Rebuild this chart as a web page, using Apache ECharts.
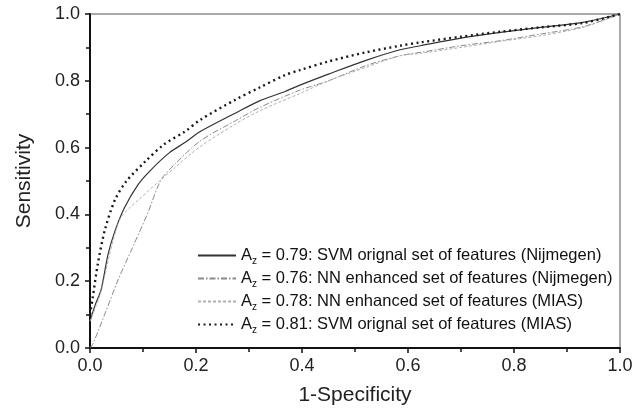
<!DOCTYPE html>
<html><head><meta charset="utf-8">
<script src="https://cdn.jsdelivr.net/npm/echarts@6/dist/echarts.min.js"></script>
<style>html,body{margin:0;padding:0;background:#fff}#c{width:643px;height:412px}</style>
</head><body><div id="c"></div>
<script>
const xTicks = [0, 0.2, 0.4, 0.6, 0.8, 1.0];
const yTicks = [0, 0.2, 0.4, 0.6, 0.8, 1.0];
const seriesNames = ['SVM Nijmegen', 'NN Nijmegen', 'NN MIAS', 'SVM MIAS'];
const aucValues = ['0.79', '0.76', '0.78', '0.81'];
const legendDesc = [
  'SVM orignal set of features (Nijmegen)',
  'NN enhanced set of features (Nijmegen)',
  'NN enhanced set of features (MIAS)',
  'SVM orignal set of features (MIAS)'
];
const svmNijmegen = [[0,0.08],[0.01,0.13],[0.021,0.175],[0.034,0.28],[0.047,0.35],[0.065,0.42],[0.091,0.49],[0.116,0.535],[0.15,0.585],[0.179,0.615],[0.208,0.648],[0.274,0.703],[0.32,0.74],[0.368,0.768],[0.396,0.787],[0.45,0.82],[0.522,0.862],[0.585,0.893],[0.623,0.905],[0.7,0.928],[0.774,0.945],[0.85,0.96],[0.93,0.975],[1,1]];
const nnNijmegen = [[0,0],[0.006,0.014],[0.03,0.11],[0.053,0.204],[0.08,0.3],[0.109,0.404],[0.134,0.503],[0.16,0.55],[0.208,0.62],[0.274,0.68],[0.32,0.72],[0.396,0.772],[0.45,0.8],[0.52,0.845],[0.585,0.875],[0.623,0.885],[0.7,0.905],[0.774,0.92],[0.85,0.94],[0.93,0.962],[1,1]];
const nnMIAS = [[0,0.08],[0.01,0.12],[0.021,0.17],[0.034,0.26],[0.045,0.33],[0.058,0.39],[0.075,0.42],[0.091,0.443],[0.131,0.5],[0.16,0.54],[0.208,0.603],[0.274,0.67],[0.32,0.71],[0.396,0.762],[0.45,0.8],[0.52,0.84],[0.585,0.875],[0.623,0.882],[0.7,0.9],[0.774,0.918],[0.85,0.935],[0.93,0.96],[1,1]];
const svmMIAS = [[0,0.1],[0.005,0.15],[0.015,0.254],[0.028,0.353],[0.047,0.443],[0.068,0.498],[0.104,0.558],[0.14,0.61],[0.179,0.648],[0.208,0.683],[0.274,0.743],[0.32,0.78],[0.368,0.817],[0.396,0.832],[0.45,0.858],[0.52,0.885],[0.585,0.905],[0.623,0.915],[0.7,0.932],[0.774,0.947],[0.85,0.96],[0.93,0.973],[1,1]];

const FONT = '"Liberation Sans", Arial, sans-serif';
const chart = echarts.init(document.getElementById('c'), null, {renderer: 'canvas'});
const styles = [
  {color: '#333', width: 1.2, type: 'solid'},
  {color: '#8a8a8a', width: 1, type: [6, 2, 1.5, 2]},
  {color: '#b0b0b0', width: 1, type: [3, 2]},
  {color: '#1a1a1a', width: 2.4, type: [2, 3.5]}
];
const datas = [svmNijmegen, nnNijmegen, nnMIAS, svmMIAS];
const axisCommon = {
  min: 0, max: 1, interval: 0.2,
  axisLine: {show: true, onZero: false, lineStyle: {color: '#111', width: 2}},
  axisTick: {show: true, inside: false, length: 5, lineStyle: {color: '#111', width: 1.5}},
  minorTick: {show: true, splitNumber: 2, length: 4, lineStyle: {color: '#111', width: 1.5}},
  splitLine: {show: false},
  axisLabel: {fontSize: 18, color: '#222', fontFamily: FONT, formatter: v => v.toFixed(1)},
  nameLocation: 'middle',
  nameTextStyle: {fontSize: 21, color: '#222', fontFamily: FONT}
};
chart.setOption({
  animation: false,
  backgroundColor: '#fff',
  grid: {left: 90, right: 23, top: 14, bottom: 64, show: true, borderColor: '#555', borderWidth: 1, backgroundColor: 'transparent'},
  xAxis: Object.assign({type: 'value', name: '1-Specificity', nameGap: 37}, axisCommon,
    {axisLabel: Object.assign({}, axisCommon.axisLabel, {margin: 9})}),
  yAxis: Object.assign({type: 'value', name: 'Sensitivity', nameGap: 55}, axisCommon,
    {axisLabel: Object.assign({}, axisCommon.axisLabel, {margin: 10})}),
  legend: {
    orient: 'vertical', left: 197, top: 247, itemGap: 4, padding: 0,
    itemWidth: 38, itemHeight: 14,
    itemStyle: {opacity: 0},
    data: seriesNames,
    formatter: name => {
      const i = seriesNames.indexOf(name);
      return 'A{sub|z} = ' + aucValues[i] + ': ' + legendDesc[i];
    },
    textStyle: {fontSize: 16.5, color: '#111', fontFamily: FONT,
      rich: {sub: {fontSize: 10, fontFamily: FONT, color: '#111', padding: [11, 0, 0, 0]}}}
  },
  series: seriesNames.map((n, i) => ({
    name: n, type: 'line', data: datas[i], symbol: 'none', smooth: 0.3,
    lineStyle: styles[i], itemStyle: {color: styles[i].color}
  }))
});
</script></body></html>
